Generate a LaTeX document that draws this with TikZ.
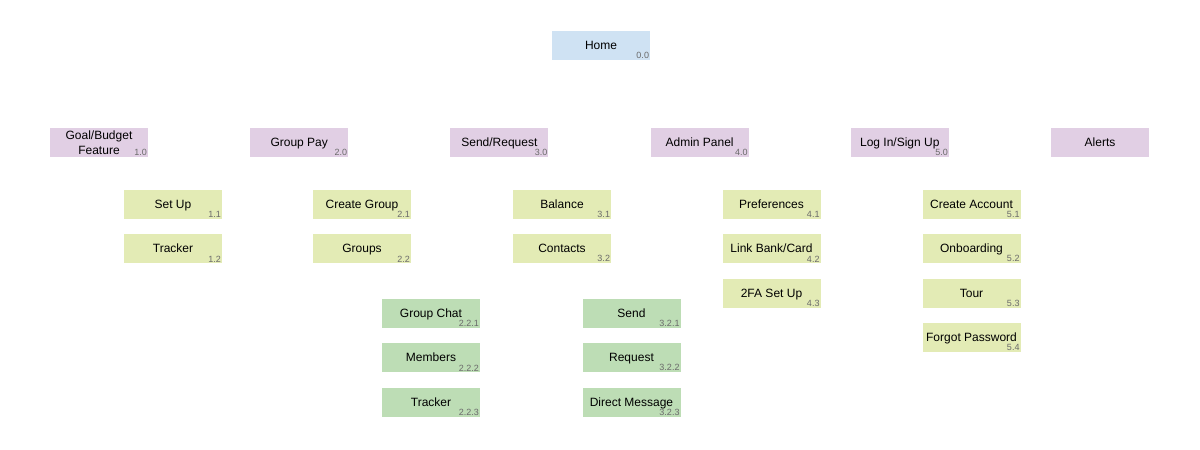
\documentclass[tikz,border=0pt]{standalone}
\usepackage{fontspec}
\setmainfont{Liberation Sans}
\usetikzlibrary{positioning}
\definecolor{homeblue}{HTML}{CFE2F3}
\definecolor{mainpurple}{HTML}{E1CFE4}
\definecolor{subgreen}{HTML}{E3EBB5}
\definecolor{leafgreen}{HTML}{BDDDB5}
\definecolor{numgray}{HTML}{6A6A6A}
\tikzset{
  box/.style={minimum width=98pt, minimum height=29pt, inner sep=0pt, align=center,
    text depth=0pt, font=\fontsize{12}{14.5}\selectfont},
  num/.style={label={[anchor=south east, inner sep=1pt, text=numgray,
    font=\fontsize{9}{10}\selectfont]south east:#1}},
}
\begin{document}
\begin{tikzpicture}[x=1pt, y=1pt, node distance=200.2pt]
      \useasboundingbox (0,0) rectangle (1200,-450);
      \node[box, fill=homeblue, num=0.0]   (home) at (601,-45.5) {Home};
      \node[box, fill=mainpurple, num=1.0] (goal) at (99,-142.5) {Goal/Budget\\Feature};
      \node[box, fill=mainpurple, num=2.0, right of=goal]     (grouppay) {Group Pay};
      \node[box, fill=mainpurple, num=3.0, right of=grouppay] (sendreq) {Send/Request};
      \node[box, fill=mainpurple, num=4.0, right of=sendreq]  (admin) {Admin Panel};
      \node[box, fill=mainpurple, num=5.0, right of=admin]    (login) {Log In/Sign Up};
      \node[box, fill=mainpurple, right of=login]             (alerts) {Alerts};
      \tikzset{node distance=44.5pt};
      \node[box, fill=subgreen, num=1.1] (setup) at (173,-204) {Set Up};
      \node[box, fill=subgreen, num=1.2, below of=setup] (tracker) {Tracker};
      \node[box, fill=subgreen, num=2.1] (creategroup) at (362,-204) {Create Group};
      \node[box, fill=subgreen, num=2.2, below of=creategroup] (groups) {Groups};
      \node[box, fill=subgreen, num=3.1] (balance) at (562,-204) {Balance};
      \node[box, fill=subgreen, num=3.2, below of=balance] (contacts) {Contacts};
      \node[box, fill=subgreen, num=4.1] (prefs) at (771.5,-204) {Preferences};
      \node[box, fill=subgreen, num=4.2, below of=prefs]    (linkbank) {Link Bank/Card};
      \node[box, fill=subgreen, num=4.3, below of=linkbank] (twofa) {2FA Set Up};
      \node[box, fill=subgreen, num=5.1] (createacc) at (971.5,-204) {Create Account};
      \node[box, fill=subgreen, num=5.2, below of=createacc] (onboard) {Onboarding};
      \node[box, fill=subgreen, num=5.3, below of=onboard]   (tour) {Tour};
      \node[box, fill=subgreen, num=5.4, below of=tour]      (forgot) {Forgot Password};
      \node[box, fill=leafgreen, num=2.2.1] (chat) at (431,-313) {Group Chat};
      \node[box, fill=leafgreen, num=2.2.2, below of=chat]    (members) {Members};
      \node[box, fill=leafgreen, num=2.2.3, below of=members] (grouptracker) {Tracker};
      \node[box, fill=leafgreen, num=3.2.1] (send) at (631.5,-313) {Send};
      \node[box, fill=leafgreen, num=3.2.2, below of=send]    (request) {Request};
      \node[box, fill=leafgreen, num=3.2.3, below of=request] (dm) {Direct Message};
     \end{tikzpicture}
\end{document}
